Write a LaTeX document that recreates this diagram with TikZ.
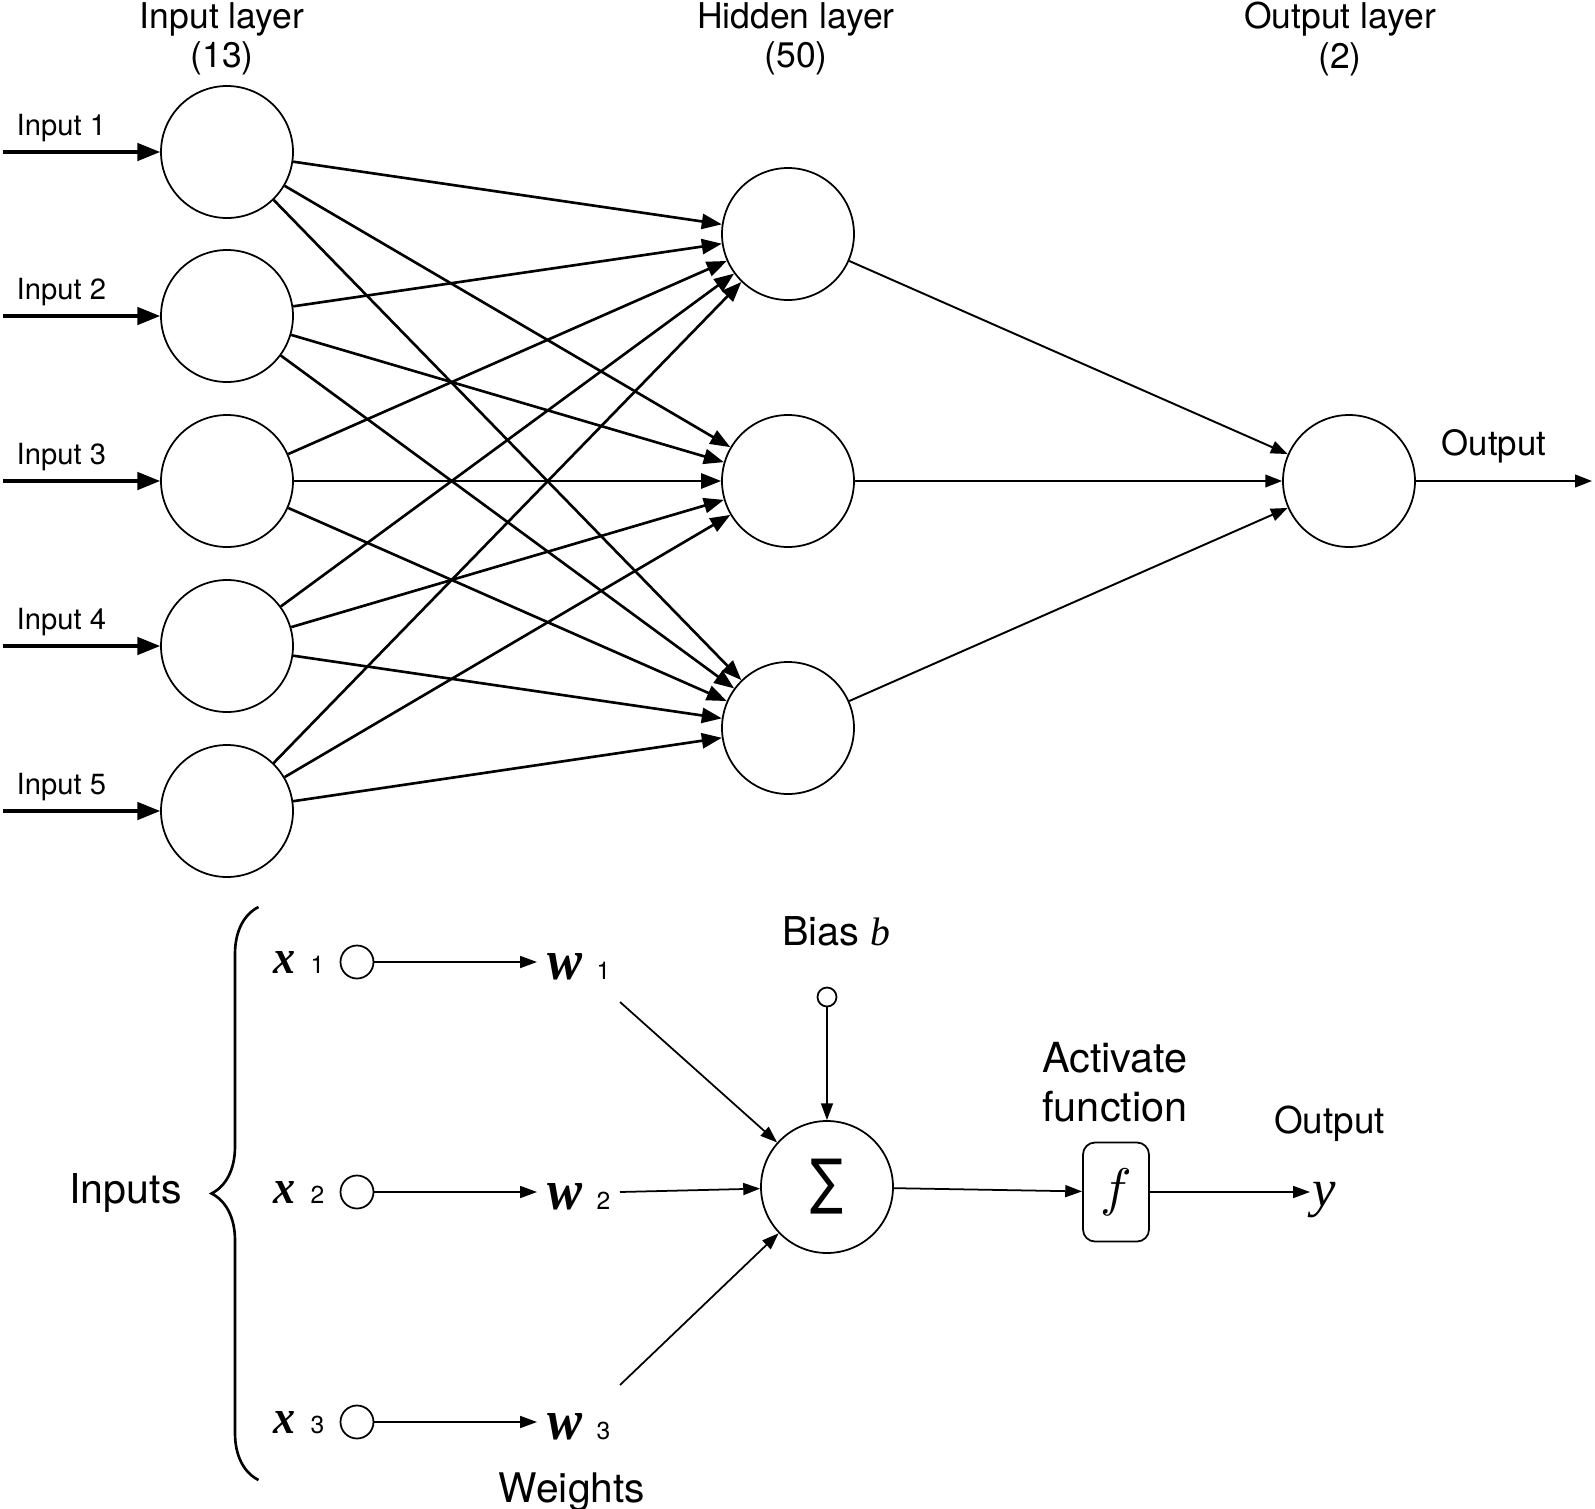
\documentclass[tikz,border=0pt]{standalone}
\usepackage{graphicx}
\usepackage{fontspec}
\setmainfont{TeX Gyre Heros}
\newfontfamily\symfont{DejaVu Sans}
\newfontfamily\timesfont{Liberation Serif}
\usetikzlibrary{arrows.meta,decorations.pathreplacing}

\newcommand{\xsym}{\resizebox{0.22cm}{0.22cm}{\timesfont\bfseries\itshape x}}
\newcommand{\wsym}{\resizebox{0.35cm}{0.26cm}{\timesfont\bfseries\itshape w}}
\newcommand{\subnum}[1]{{\fontsize{7}{8}\selectfont #1}}
\newcommand{\varit}[1]{{\timesfont\itshape #1}}

\begin{document}
\begin{tikzpicture}[
  neuron/.style={circle,draw,line width=0.5pt,minimum size=1.32cm,inner sep=0pt},
  dot/.style={circle,draw,line width=0.5pt,minimum size=0.33cm,inner sep=0pt},
  inarrow/.style={line width=0.9pt,-{Triangle[length=6.5pt,width=5pt]}},
  thickedge/.style={line width=0.75pt,-{Triangle[length=5.7pt,width=4.3pt]}},
  thinedge/.style={line width=0.55pt,-{Triangle[length=4.8pt,width=3.6pt]}},
  arr/.style={line width=0.5pt,-{Triangle[length=4.8pt,width=3.4pt]}},
  header/.style={font=\fontsize{10.1}{11.2}\selectfont,align=center,inner sep=0pt},
  inlabel/.style={font=\fontsize{8.3}{10}\selectfont,inner sep=0pt,anchor=base west},
  lbl/.style={inner sep=0pt,anchor=base},
  sublbl/.style={inner xsep=0pt,inner ysep=0pt,anchor=base west},
]
\useasboundingbox (0,0) rectangle (15.95,-15.09);

% network
\node[neuron] (in1) at (2.27,-1.52) {};
\node[neuron] (in2) at (2.27,-3.16) {};
\node[neuron] (in3) at (2.27,-4.81) {};
\node[neuron] (in4) at (2.27,-6.46) {};
\node[neuron] (in5) at (2.27,-8.11) {};

\node[neuron] (hid1) at (7.88,-2.34) {};
\node[neuron] (hid2) at (7.88,-4.81) {};
\node[neuron] (hid3) at (7.88,-7.28) {};

\node[neuron] (out) at (13.49,-4.81) {};

\node[header] (hin) at (2.22,-0.39) {Input layer\\(13)};
\node[header] (hhid) at (7.96,-0.39) {Hidden layer\\(50)};
\node[header] (hout) at (13.40,-0.39) {Output layer\\(2)};

\coordinate (src1) at (0.03,-1.52);
\coordinate (src2) at (0.03,-3.16);
\coordinate (src3) at (0.03,-4.81);
\coordinate (src4) at (0.03,-6.46);
\coordinate (src5) at (0.03,-8.11);
\draw[inarrow] (src1) -- (in1);
\draw[inarrow] (src2) -- (in2);
\draw[inarrow] (src3) -- (in3);
\draw[inarrow] (src4) -- (in4);
\draw[inarrow] (src5) -- (in5);
\node[inlabel] (lin1) at (0.16,-1.35) {Input 1};
\node[inlabel] (lin2) at (0.16,-2.99) {Input 2};
\node[inlabel] (lin3) at (0.16,-4.64) {Input 3};
\node[inlabel] (lin4) at (0.16,-6.29) {Input 4};
\node[inlabel] (lin5) at (0.16,-7.94) {Input 5};

\draw[thickedge] (in1) -- (hid1);
\draw[thickedge] (in1) -- (hid2);
\draw[thickedge] (in1) -- (hid3);
\draw[thickedge] (in2) -- (hid1);
\draw[thickedge] (in2) -- (hid2);
\draw[thickedge] (in2) -- (hid3);
\draw[thickedge] (in3) -- (hid1);
\draw[thickedge] (in3) -- (hid2);
\draw[thickedge] (in3) -- (hid3);
\draw[thickedge] (in4) -- (hid1);
\draw[thickedge] (in4) -- (hid2);
\draw[thickedge] (in4) -- (hid3);
\draw[thickedge] (in5) -- (hid1);
\draw[thickedge] (in5) -- (hid2);
\draw[thickedge] (in5) -- (hid3);

\draw[thinedge] (hid1) -- (out);
\draw[thinedge] (hid2) -- (out);
\draw[thinedge] (hid3) -- (out);

\coordinate (sink) at (15.92,-4.81);
\draw[thinedge] (out) -- (sink);
\node[lbl,font=\fontsize{9.9}{12}\selectfont] (lout) at (14.94,-4.55) {Output};

% single neuron
\draw[line width=0.75pt,decorate,decoration={brace,amplitude=0.47cm}] (2.585,-14.80) -- (2.585,-9.07);
\node[lbl,font=\fontsize{11.7}{13}\selectfont] (linputs) at (1.255,-12.03) {Inputs};

\node[dot] (c1) at (3.57,-9.62) {};
\node[dot] (c2) at (3.57,-11.92) {};
\node[dot] (c3) at (3.57,-14.22) {};

\node[sublbl] (x1) at (2.73,-9.73) {\xsym\hspace{0.15cm}\subnum{1}};
\node[sublbl] (x2) at (2.73,-12.03) {\xsym\hspace{0.15cm}\subnum{2}};
\node[sublbl] (x3) at (2.73,-14.33) {\xsym\hspace{0.15cm}\subnum{3}};

\node[sublbl,inner xsep=0.1cm] (w1) at (5.37,-9.79) {\wsym\hspace{0.14cm}\subnum{1}};
\node[sublbl,inner xsep=0.1cm] (w2) at (5.37,-12.09) {\wsym\hspace{0.14cm}\subnum{2}};
\node[sublbl,inner xsep=0.1cm] (w3) at (5.37,-14.39) {\wsym\hspace{0.14cm}\subnum{3}};

\draw[arr] (c1) -- (c1 -| w1.west);
\draw[arr] (c2) -- (c2 -| w2.west);
\draw[arr] (c3) -- (c3 -| w3.west);

\node[lbl,font=\fontsize{11.6}{14}\selectfont] (lweights) at (5.72,-15.02) {Weights};

\node[neuron] (sum) at (8.27,-11.87) {\resizebox*{0.33cm}{0.55cm}{\symfont ∑}};

\coordinate (s1) at (6.20,-10.02);
\coordinate (s2) at (6.20,-11.92);
\coordinate (s3) at (6.20,-13.85);
\draw[arr] (s1) -- (sum);
\draw[arr] (s2) -- (sum);
\draw[arr] (s3) -- (sum);

\node[circle,draw,line width=0.5pt,minimum size=0.19cm,inner sep=0pt] (bias) at (8.27,-9.97) {};
\node[lbl,font=\fontsize{11.3}{13}\selectfont] (lbias) at (8.365,-9.45) {Bias \varit{b}};
\draw[arr] (bias) -- (sum);

\node[draw,line width=0.5pt,rounded corners=0.12cm,minimum width=0.66cm,minimum height=0.99cm,inner sep=0pt] (f) at (11.16,-11.92) {\resizebox*{!}{0.47cm}{$f$}};
\node[align=center,inner sep=0pt,font=\fontsize{11.8}{13.8}\selectfont] (lact) at (11.15,-10.82) {Activate\\function};
\draw[arr] (sum) -- (f);

\node[inner sep=0.5pt,anchor=west,font=\fontsize{15}{15}\selectfont] (y) at (13.10,-12.00) {\varit{y}};
\draw[arr] (f.east) -- (f.east -| y.west);
\node[lbl,font=\fontsize{10.5}{12}\selectfont] (lout2) at (13.295,-11.33) {Output};

\end{tikzpicture}
\end{document}
